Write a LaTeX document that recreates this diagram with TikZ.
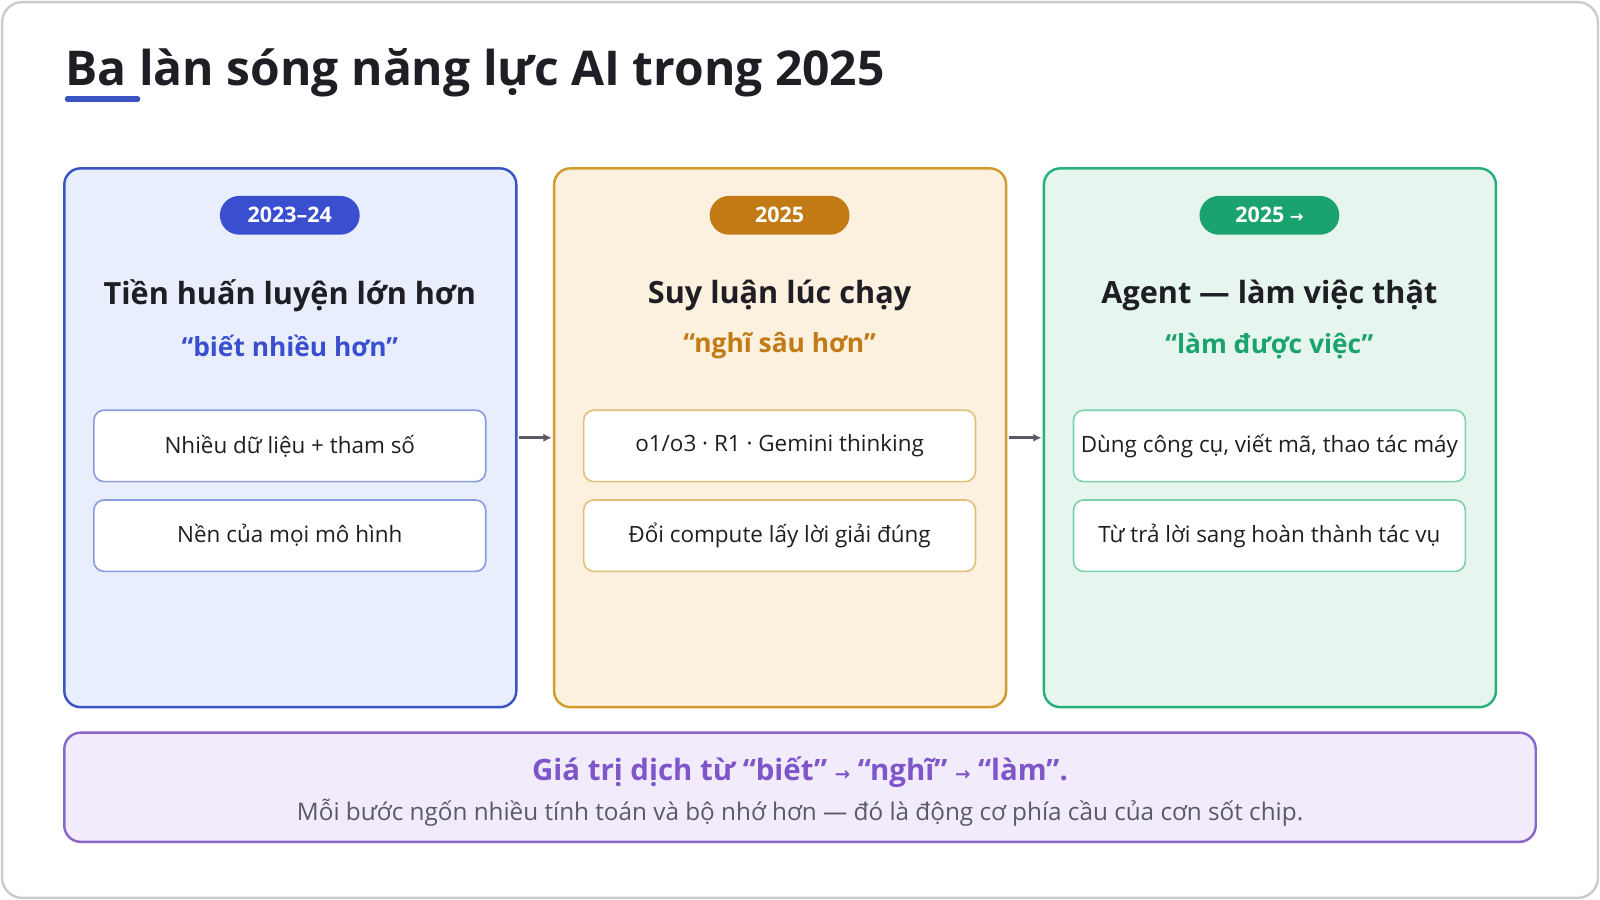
\documentclass[tikz,border=0pt]{standalone}
\usepackage{fontspec}
\setmainfont{Open Sans}
\newfontfamily\arr{DejaVu Sans}
\usetikzlibrary{arrows.meta}
\definecolor{bB}{HTML}{3A54C4}\definecolor{bF}{HTML}{E9EEFC}\definecolor{bP}{HTML}{3A4FD0}\definecolor{bI}{HTML}{8A9BE0}
\definecolor{oB}{HTML}{D39A2C}\definecolor{oF}{HTML}{FCF1DF}\definecolor{oP}{HTML}{C27B14}\definecolor{oI}{HTML}{E2BF7A}
\definecolor{gB}{HTML}{27B07A}\definecolor{gF}{HTML}{E6F6EF}\definecolor{gP}{HTML}{1AA36F}\definecolor{gI}{HTML}{7FD1AE}
\definecolor{pB}{HTML}{8A67C9}\definecolor{pF}{HTML}{F1EBFB}\definecolor{pT}{HTML}{7E56C9}
\definecolor{ink}{HTML}{1E1E24}\definecolor{gr}{HTML}{5A5A64}
\tikzset{
 panel/.style={draw=#1,line width=1.2pt,rounded corners=8pt},
 pill/.style={fill=#1,rounded corners=9.5pt,minimum width=68.5pt,minimum height=19pt,inner sep=0pt,text=white,font=\bfseries\fontsize{10.5}{12}\selectfont},
 head/.style={font=\bfseries\fontsize{15}{17}\selectfont,text=ink},
 sub/.style={font=\bfseries\fontsize{12.9}{14}\selectfont,text=#1},
 item/.style={draw=#1,fill=white,line width=0.8pt,rounded corners=5pt,minimum width=192pt,minimum height=35pt,inner sep=0pt,font=\fontsize{11}{13}\selectfont,text=ink},
 flow/.style={-{Latex[length=4pt,width=4pt]},draw=gr,line width=1.5pt}
}
\begin{document}
\begin{tikzpicture}[x=0.5pt,y=-0.5pt]
\useasboundingbox (0,0) rectangle (1568,882);
\draw[draw=black!20,line width=1.2pt,fill=white,rounded corners=10pt] (2,2) rectangle (1566,880);
\node[anchor=base west,inner sep=0pt,font=\bfseries\fontsize{23.5}{26}\selectfont,text=ink] (title) at (64,84) {Ba làn sóng năng lực AI trong 2025};
\draw[bB,line width=2.5pt,line cap=round] (66,97) -- (135,97);
\foreach \x/\c/\f/\p/\i/\lab/\h/\s/\ia/\ib [count=\k] in {
 63/bB/bF/bP/bI/{2023–24}/{Tiền huấn luyện lớn hơn}/{“biết nhiều hơn”}/{Nhiều dữ liệu + tham số}/{Nền của mọi mô hình},
 543/oB/oF/oP/oI/{2025}/{Suy luận lúc chạy}/{“nghĩ sâu hơn”}/{o1/o3 · R1 · Gemini thinking}/{Đổi compute lấy lời giải đúng},
 1023/gB/gF/gP/gI/{2025 {\arr\fontsize{8}{9}\selectfont →}}/{Agent — làm việc thật}/{“làm được việc”}/{Dùng công cụ, viết mã, thao tác máy}/{Từ trả lời sang hoàn thành tác vụ}}{
 \draw[panel=\c,fill=\f] (\x,165) rectangle ++(443,528);
 \node[pill=\p] (pill\k) at (\x+221,211) {\lab};
 \node[head] (h\k) at (\x+221,290) {\h};
 \node[sub=\p] (s\k) at (\x+221,339) {\s};
 \node[item=\i] (a\k) at (\x+221,437) {\ia};
 \node[item=\i] (b\k) at (\x+221,525) {\ib};
}
\node[inner sep=0pt] (p1r) at (507,429) {}; \node[inner sep=0pt] (p2l) at (542,429) {};
\node[inner sep=0pt] (p2r) at (987,429) {}; \node[inner sep=0pt] (p3l) at (1022,429) {};
\draw[flow] (p1r) -- (p2l);
\draw[flow] (p2r) -- (p3l);
\draw[draw=pB,fill=pF,line width=1.2pt,rounded corners=8pt] (63,718) rectangle (1505,825);
\node[font=\bfseries\fontsize{14.4}{16}\selectfont,text=pT] (v1) at (784,757) {Giá trị dịch từ “biết” {\arr\fontsize{9}{10}\selectfont →} “nghĩ” {\arr\fontsize{9}{10}\selectfont →} “làm”.};
\node[font=\fontsize{11.9}{13}\selectfont,text=gr] (v2) at (784,796) {Mỗi bước ngốn nhiều tính toán và bộ nhớ hơn — đó là động cơ phía cầu của cơn sốt chip.};
\end{tikzpicture}
\end{document}
